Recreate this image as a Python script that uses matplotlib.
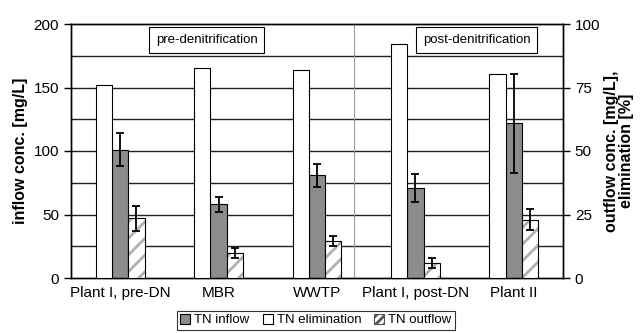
import matplotlib
matplotlib.use("Agg")
import matplotlib.pyplot as plt
import numpy as np
from matplotlib.patches import Patch

plt.rcParams['font.family'] = ['Liberation Sans', 'DejaVu Sans']

categories = ["Plant I, pre-DN", "MBR", "WWTP", "Plant I, post-DN", "Plant II"]
inflow = [101, 58, 81, 71, 122]          # mg/L, left axis
inflow_err = [13, 6, 9, 11, 39]
elimination = [76, 82.5, 82, 92, 80.5]   # %, right axis
outflow = [23.5, 10, 14.5, 5.8, 23]      # mg/L, right axis
outflow_err = [5, 2, 2, 2, 4]
legend_labels = ["TN inflow", "TN elimination", "TN outflow"]

fig = plt.figure(figsize=(6.43, 3.33), dpi=100)
ax = fig.add_axes([71/643, 1-278/333, 492/643, 254/333])
ax2 = ax.twinx()

x = np.arange(len(categories))
w = 0.165

ax.set_xlim(-0.5, len(categories)-0.5)
ax.set_ylim(0, 200)
ax2.set_ylim(0, 100)

# grid lines every 25 (left units)
for yv in np.arange(25, 200, 25):
    ax.axhline(yv, color='#222222', lw=1.0, zorder=0)
ax.axvline(2.38, color='#999999', lw=0.8, zorder=0)

ecfg = dict(ecolor='black', elinewidth=1.3, capsize=3, capthick=1.3)
ax.bar(x, inflow, w, color='#8c8c8c', edgecolor='black', lw=0.8, zorder=3)
ax.errorbar(x, inflow, yerr=inflow_err, fmt='none', zorder=4, **ecfg)

ax2.bar(x - w, elimination, w, color='white', edgecolor='black', lw=0.8, zorder=3)
plt.rcParams['hatch.linewidth'] = 2.0
ax2.bar(x + w, outflow, w, color='white', edgecolor='#b0b0b0', hatch='//', lw=0, zorder=3)
ax2.bar(x + w, outflow, w, fill=False, edgecolor='black', lw=0.8, zorder=3.5)
ax2.errorbar(x + w, outflow, yerr=outflow_err, fmt='none', zorder=4, **ecfg)

ax.set_xticks(x)
ax.set_xticklabels(categories, fontsize=11)
ax.tick_params(axis='x', length=0, pad=6)
ax.set_yticks([0, 50, 100, 150, 200])
ax.tick_params(axis='y', labelsize=11, length=5, width=1, direction='out')
ax2.set_yticks([0, 25, 50, 75, 100])
ax2.tick_params(axis='y', labelsize=11, length=5, width=1, direction='out')

for a in (ax, ax2):
    for s in a.spines.values():
        s.set_linewidth(1.0)
        s.set_color('black')

ax.set_ylabel("inflow conc. [mg/L]", fontsize=11.5, fontweight='bold', labelpad=4)
ax2.set_ylabel("outflow conc. [mg/L],\nelimination [%]", fontsize=11.5, fontweight='bold',
               labelpad=3, linespacing=0.95)

ax2.text(0.276, 0.937, "pre-denitrification", transform=ax.transAxes, ha='center', va='center',
         fontsize=9.5, bbox=dict(boxstyle='square,pad=0.5', fc='white', ec='black', lw=0.8), zorder=6)
ax2.text(0.825, 0.937, "post-denitrification", transform=ax.transAxes, ha='center', va='center',
         fontsize=9.5, bbox=dict(boxstyle='square,pad=0.5', fc='white', ec='black', lw=0.8), zorder=6)

handles = [Patch(fc='#8c8c8c', ec='black', lw=0.8),
           Patch(fc='white', ec='black', lw=0.8),
           Patch(fc='white', ec='#555555', hatch='////', lw=0.8)]
leg = fig.legend(handles, legend_labels, loc='lower center', bbox_to_anchor=(316/643, -0.01),
                 ncol=3, fontsize=9.5, frameon=True, fancybox=False, edgecolor='black',
                 handlelength=0.75, handleheight=0.75, handletextpad=0.3, columnspacing=1.0,
                 borderpad=0.25)
leg.get_frame().set_linewidth(0.8)

fig.savefig("out.png", dpi=100)
